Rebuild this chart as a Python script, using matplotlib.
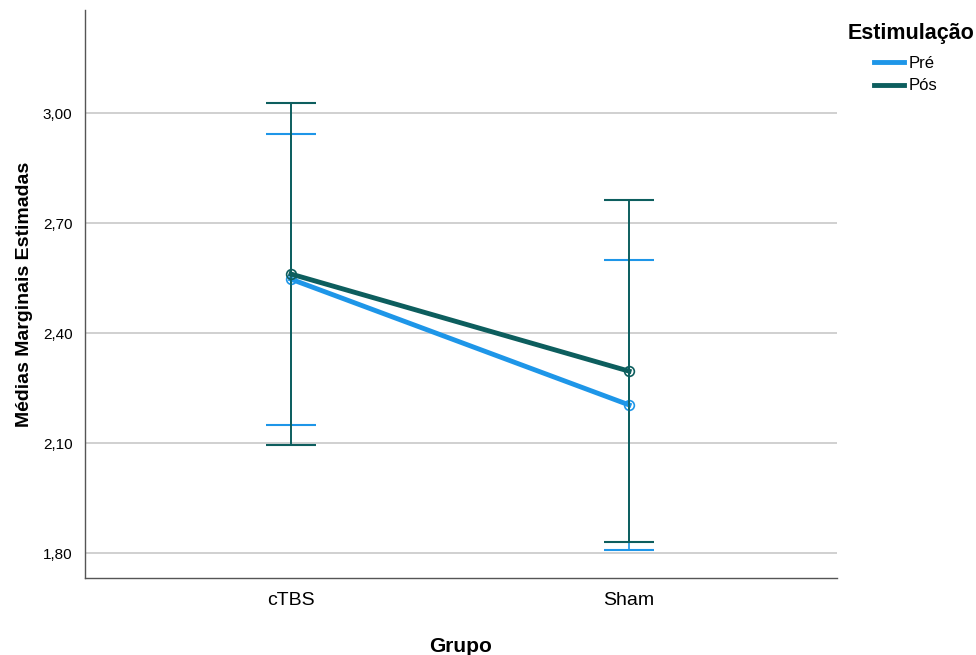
import numpy as np
import matplotlib.pyplot as plt
from matplotlib.ticker import FuncFormatter

plt.rcParams['font.family'] = ['Liberation Sans', 'DejaVu Sans']

grupos = ['cTBS', 'Sham']
series = ['Pré', 'Pós']
medias = {'Pré': [2.547, 2.204], 'Pós': [2.561, 2.296]}
ic_sup = {'Pré': [2.943, 2.599], 'Pós': [3.027, 2.763]}
ic_inf = {'Pré': [2.149, 1.808], 'Pós': [2.095, 1.830]}
cores = {'Pré': '#1e96e8', 'Pós': '#0d5e5e'}

fig = plt.figure(figsize=(9.76, 6.55), dpi=100)
ax = fig.add_axes([0.0871, 0.1176, 0.7705, 0.8671])

x = np.arange(len(grupos))
for s in series:
    m = np.array(medias[s])
    lo = m - np.array(ic_inf[s])
    hi = np.array(ic_sup[s]) - m
    # barras de erro
    ax.errorbar(x, m, yerr=[lo, hi], fmt='none', ecolor=cores[s],
                elinewidth=1.2, capsize=18, capthick=1.5, zorder=3)
for s in series:
    ax.plot(x, medias[s], color=cores[s], lw=3.5, label=s, zorder=4,
            marker='o', markersize=7, markerfacecolor='none',
            markeredgecolor=cores[s], markeredgewidth=1.2)
# linha vertical do Pós por cima
ax.vlines(x, ic_inf['Pós'], ic_sup['Pós'], color=cores['Pós'], lw=1.2, zorder=5)

ax.set_xlim(-0.609, 1.615)
ax.set_ylim(1.732, 3.281)
ax.set_yticks([1.80, 2.10, 2.40, 2.70, 3.00])
ax.yaxis.set_major_formatter(FuncFormatter(lambda v, p: f'{v:.2f}'.replace('.', ',')))
ax.set_xticks(x)
ax.set_xticklabels(grupos, fontsize=14)
ax.tick_params(axis='y', labelsize=11, length=0, pad=9)
ax.tick_params(axis='x', length=0, pad=10)
ax.grid(axis='y', color='#c8c8c8', lw=1.2)
ax.set_axisbelow(True)
for sp in ['top', 'right']:
    ax.spines[sp].set_visible(False)
for sp in ['left', 'bottom']:
    ax.spines[sp].set_color('#555555')
    ax.spines[sp].set_linewidth(1)

ax.set_ylabel('Médias Marginais Estimadas', fontsize=14, fontweight='bold', labelpad=7)
ax.set_xlabel('Grupo', fontsize=15, fontweight='bold', labelpad=20)

# titulo da legenda
fig.text(911 / 976, 1 - 33 / 655, 'Estimulação', fontsize=15.5, fontweight='bold',
         ha='center', va='center')
leg = fig.legend(*ax.get_legend_handles_labels(),
                 loc='upper left', bbox_to_anchor=(874 / 976, 1 - 56 / 655),
                 frameon=False, fontsize=12, handlelength=1.8, handletextpad=0.3,
                 labelspacing=0.45, borderaxespad=0, borderpad=0)
for h in leg.get_lines():
    h.set_marker('')
    h.set_linewidth(3.5)

fig.savefig('out.png', dpi=100)
